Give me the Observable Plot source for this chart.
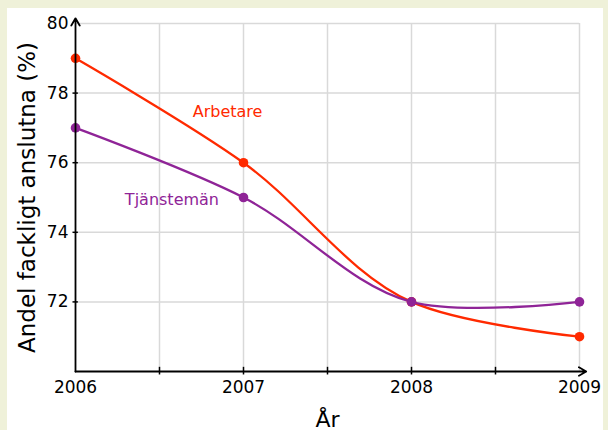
<!DOCTYPE html>
<html>
<head>
<meta charset="utf-8">
<script src="https://cdn.jsdelivr.net/npm/d3@7"></script>
<script src="https://cdn.jsdelivr.net/npm/@observablehq/plot@0.6"></script>
<style>
  html, body { margin: 0; padding: 0; background: #eff1d9; width: 608px; height: 430px; overflow: hidden; }
  #panel { position: absolute; left: 7px; top: 8px; width: 596px; height: 422px; background: #fff; }
</style>
</head>
<body>
<div id="panel"></div>
<script>
const years = [2006, 2007, 2008, 2009];
const arbetare = [79, 76, 72, 71];
const tjanstemanValues = [77, 75, 72, 72];
const seriesNames = ["Arbetare", "Tjänstemän"];
const seriesColors = ["#ff2a00", "#8f2497"];
const yTicks = [72, 74, 76, 78, 80];
const xTicks = [2006, 2007, 2008, 2009];
const xGrid = [2006.5, 2007, 2007.5, 2008, 2008.5, 2009];
const xTickMarks = [2006.5, 2007, 2007.5, 2008, 2008.5];
const labelPos = [{x: 2006.905, y: 77.47}, {x: 2006.574, y: 74.92}];
const xTitle = "År";
const yTitle = "Andel fackligt anslutna (%)";

const rows = [];
years.forEach((yr, i) => {
  rows.push({year: yr, value: arbetare[i], s: seriesNames[0]});
  rows.push({year: yr, value: tjanstemanValues[i], s: seriesNames[1]});
});
const labels = seriesNames.map((n, i) => ({name: n, x: labelPos[i].x, y: labelPos[i].y}));

const plot = Plot.plot({
  width: 596,
  height: 422,
  marginLeft: 68,
  marginRight: 24,
  marginTop: 15,
  marginBottom: 59,
  style: {fontFamily: "DejaVu Sans", fontSize: "17px", background: "transparent", overflow: "visible"},
  x: {domain: [2006, 2009], axis: null},
  y: {domain: [70, 80], axis: null},
  color: {domain: seriesNames, range: seriesColors},
  marks: [
    Plot.gridX(xGrid, {stroke: "#d9d9d9", strokeOpacity: 1, strokeWidth: 1.5}),
    Plot.gridY(yTicks, {stroke: "#d9d9d9", strokeOpacity: 1, strokeWidth: 1.5}),
    Plot.line(rows, {x: "year", y: "value", z: "s", stroke: "s", strokeWidth: 2.3, curve: d3.curveCatmullRom.alpha(1)}),
    Plot.dot(rows, {x: "year", y: "value", fill: "s", r: 4.8}),
    Plot.text(labels, {x: "x", y: "y", text: "name", fill: d => d.name, fontSize: 16}),
    Plot.arrow([0], {x1: 2006, y1: 70, x2: 2006, y2: 80.15, stroke: "#000", strokeWidth: 1.8, headLength: 7, bend: 0}),
    Plot.arrow([0], {x1: 2006, y1: 70, x2: 2009.04, y2: 70, stroke: "#000", strokeWidth: 1.8, headLength: 7, bend: 0}),
    Plot.ruleY(yTicks.slice(0, -1), {x1: 2005.985, x2: 2006.017, stroke: "#000", strokeWidth: 1.5}),
    Plot.ruleX(xTickMarks, {y1: 69.9, y2: 70.12, stroke: "#000", strokeWidth: 1.5}),
    Plot.axisY(yTicks, {anchor: "left", tickSize: 0, tickPadding: 7, tickFormat: d => String(d), fontSize: 17, fill: "#000", label: null}),
    Plot.axisX(xTicks, {anchor: "bottom", tickSize: 0, tickPadding: 9, tickFormat: d => String(d), fontSize: 17, fill: "#000", label: null}),
    Plot.axisX([], {anchor: "bottom", tickSize: 0, label: xTitle, labelAnchor: "center", labelArrow: "none", labelOffset: 55, fontSize: 22, fill: "#000"}),
    Plot.axisY([], {anchor: "left", tickSize: 0, label: yTitle, labelAnchor: "center", labelArrow: "none", labelOffset: 57, fontSize: 23, fill: "#000"})
  ]
});
document.getElementById("panel").appendChild(plot);
</script>
</body>
</html>
